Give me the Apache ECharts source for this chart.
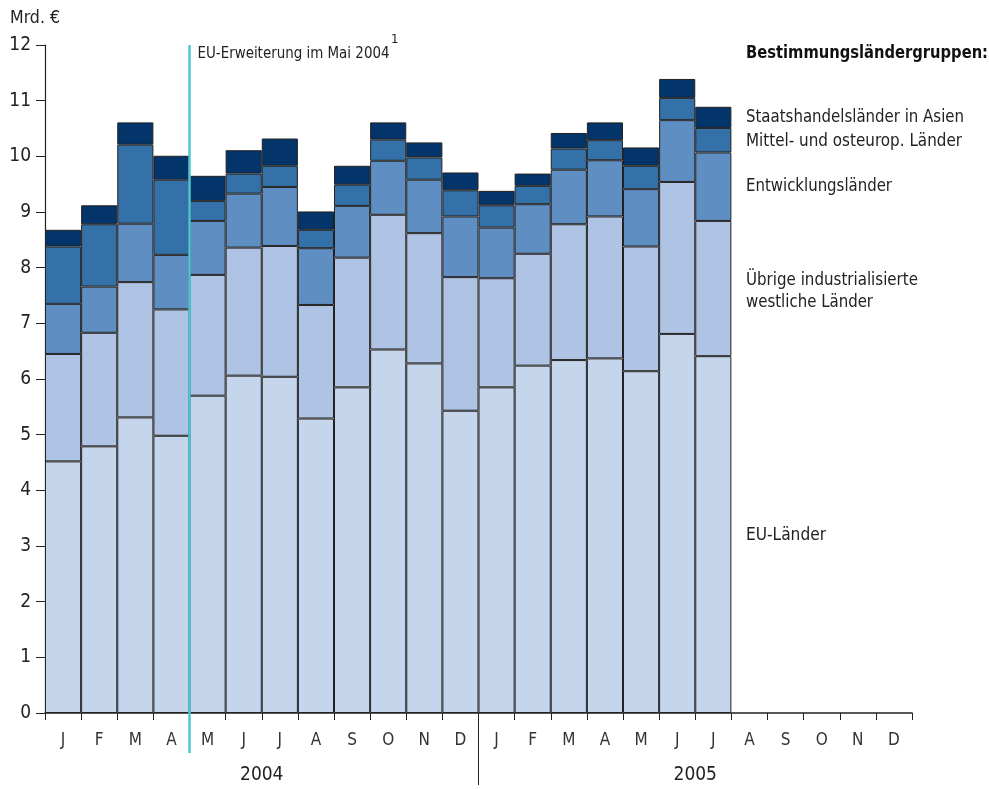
<!DOCTYPE html>
<html><head><meta charset="utf-8">
<script src="https://cdn.jsdelivr.net/npm/echarts@6/dist/echarts.min.js"></script>
<style>html,body{margin:0;padding:0;background:#fff}#c{width:989px;height:789px}</style>
</head><body><div id="c"></div>
<script>
const months = ['J','F','M','A','M','J','J','A','S','O','N','D','J','F','M','A','M','J','J','A','S','O','N','D'];
const years = ['2004','2005'];
const yTicks = [0,1,2,3,4,5,6,7,8,9,10,11,12];
const seriesNames = ['EU-Länder','Übrige industrialisierte westliche Länder','Entwicklungsländer','Mittel- und osteurop. Länder','Staatshandelsländer in Asien'];
const euLaender   = [4.52,4.79,5.31,4.98,5.70,6.06,6.04,5.29,5.85,6.53,6.28,5.43, 5.85,6.24,6.34,6.37,6.14,6.81,6.41,null,null,null,null,null];
const uebrige     = [1.93,2.04,2.43,2.27,2.17,2.30,2.35,2.04,2.33,2.42,2.34,2.40, 1.96,2.01,2.44,2.55,2.24,2.73,2.43,null,null,null,null,null];
const entwicklung = [0.90,0.83,1.05,0.98,0.97,0.97,1.06,1.02,0.93,0.97,0.96,1.09, 0.91,0.89,0.98,1.01,1.03,1.11,1.23,null,null,null,null,null];
const moe         = [1.03,1.12,1.42,1.35,0.36,0.36,0.38,0.33,0.38,0.38,0.40,0.47, 0.40,0.33,0.38,0.36,0.42,0.40,0.44,null,null,null,null,null];
const asien       = [0.30,0.34,0.40,0.43,0.45,0.42,0.49,0.33,0.34,0.31,0.27,0.32, 0.26,0.22,0.28,0.32,0.33,0.34,0.38,null,null,null,null,null];
const colors = ['#c5d5eb','#afc4e4','#5f8ec2','#3471a9','#03356b'];
const allData = [euLaender,uebrige,entwicklung,moe,asien];

const FONT = '"Liberation Sans Narrow","DejaVu Sans Condensed",sans-serif';
const chart = echarts.init(document.getElementById('c'));
const option = {
  animation:false,
  grid:{left:45,right:77,top:45,bottom:76},
  xAxis:{type:'category',data:months,
    axisLine:{lineStyle:{color:'#222',width:1.5}},
    axisTick:{show:true,length:7,lineStyle:{color:'#222'}},
    axisLabel:{color:'#333',fontSize:17,fontFamily:FONT,margin:19,interval:0}},
  yAxis:{type:'value',min:0,max:12,interval:1,
    axisLine:{show:true,lineStyle:{color:'#222',width:1.2}},
    axisTick:{show:true,length:9,lineStyle:{color:'#222'}},
    splitLine:{show:false},
    axisLabel:{color:'#222',fontSize:19,fontFamily:FONT,margin:14}},
  series: allData.map((d,i)=>({name:seriesNames[i],type:'bar',stack:'total',data:d,
    barCategoryGap:'0%',itemStyle:{color:colors[i],borderColor:'#222',borderWidth:1}}))
};
chart.setOption(option);

const mctx = document.createElement('canvas').getContext('2d');
function fitText(text,x,y,font,targetW,extra){
  mctx.font = font;
  const w = mctx.measureText(text).width;
  const s = targetW ? Math.min(1.2, targetW/w) : 1;
  return Object.assign({type:'text',x:x,y:y,scaleX:s,originX:0,
    style:{text:text,font:font,fill:'#222',verticalAlign:'middle'}}, extra||{});
}
function px(idx,val){return chart.convertToPixel({xAxisIndex:0,yAxisIndex:0},[idx,val]);}
const step = px(1,0)[0]-px(0,0)[0];
const euX = px(3,0)[0]+step/2;
const sepX = px(11,0)[0]+step/2;
const y0 = px(0,0)[1], y12 = px(0,12)[1];
const legendX = 746;
const legendItems = [
  ['Staatshandelsländer in Asien',117,218],['Mittel- und osteurop. Länder',141,216],
  ['Entwicklungsländer',186,146],['Übrige industrialisierte',280,172],['westliche Länder',302,127],['EU-Länder',535,80]];
const g = [
  {type:'line',shape:{x1:euX,y1:y12,x2:euX,y2:y0+40},style:{stroke:'#4fc6d3',lineWidth:2.5},z:20},
  {type:'line',shape:{x1:sepX,y1:y0,x2:sepX,y2:y0+72},style:{stroke:'#222',lineWidth:1},z:20},
  fitText('EU-Erweiterung im Mai 2004',euX+8,54,'16px '+FONT,192),
  fitText('1',391,40,'13px '+FONT,0),
  fitText('Mrd. €',10,18,'18px '+FONT,50),
  {type:'text',x:(px(5,0)[0]+px(6,0)[0])/2,y:775,style:{text:years[0],font:'19px '+FONT,fill:'#222',align:'center',verticalAlign:'middle'}},
  {type:'text',x:(px(17,0)[0]+px(18,0)[0])/2,y:775,style:{text:years[1],font:'19px '+FONT,fill:'#222',align:'center',verticalAlign:'middle'}},
  fitText('Bestimmungsländergruppen:',legendX,53,'bold 18px '+FONT,242,{style:{text:'Bestimmungsländergruppen:',font:'bold 18px '+FONT,fill:'#111',verticalAlign:'middle'}})
];
legendItems.forEach(([t,y,w])=>g.push(fitText(t,legendX,y,'18px '+FONT,w)));
chart.setOption({graphic:g});
</script></body></html>
